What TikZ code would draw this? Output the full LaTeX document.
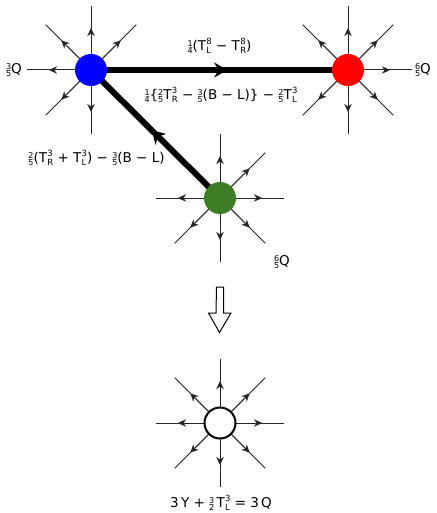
\documentclass[tikz,border=0pt]{standalone}
\usepackage{fontspec}
\setmainfont{DejaVu Sans}
\usetikzlibrary{arrows.meta,decorations.markings}
\pgfdeclarelayer{bg}
\pgfsetlayers{bg,main}
\definecolor{gnode}{RGB}{60,125,38}
\newcommand\sfr[2]{\ensuremath{\vcenter{\fontsize{8}{8}\selectfont\setbox0\hbox{#1}\setbox2\hbox{#2}\dimen0=\ifdim\wd0>\wd2 \wd0\else\wd2\fi\relax\hbox to\dimen0{\hss\box0\hss}\kern0.1pt{\color{gray!50}\hrule height0.3pt}\kern0.4pt\hbox to\dimen0{\hss\box2\hss}}}}
\newcommand\Tsb[2]{T\kern0.3pt\setbox0\hbox{\fontsize{8.5}{8.5}\selectfont #2}\setbox2\hbox{\fontsize{8.5}{8.5}\selectfont #1}\rlap{\raise0.8ex\copy0\relax}\lower0.45ex\copy2\relax\ifdim\wd0>\wd2\kern\dimexpr\wd0-\wd2\relax\fi}
\tikzset{
  charge/.style={circle,minimum size=32pt,inner sep=0pt},
  ray/.style={line width=1pt,black!85},
  rayarrow/.style={line width=1pt,black!85,-{Stealth[length=8pt,width=7.5pt,inset=2.5pt]}},
  thick edge/.style={line width=6pt,postaction={decorate},
    decoration={markings,mark=at position 0.53 with {\arrow{Stealth[length=13pt,width=15pt]}}}},
  lbl/.style={font=\fontsize{13.5}{15}\selectfont,inner sep=0pt},
}
\newcommand\rays[2]{\foreach \a in {#2}{\draw[ray] (#1.center) -- ++(\a:64);\draw[rayarrow] (#1.center) -- ++(\a:42);}}
\begin{document}
\begin{tikzpicture}[x=1pt,y=-1pt]
\useasboundingbox (0,0) rectangle (436,513);
\node[charge,fill=blue] (B) at (91,70) {};
\node[charge,fill=red] (R) at (348,70) {};
\node[charge,fill=gnode] (G) at (220,198) {};
\node[charge,minimum size=31pt,draw,line width=2pt,fill=white] (W) at (220,423) {};
\begin{pgfonlayer}{bg}
\rays{B}{90,135,180,225,270,315}
\rays{R}{0,45,90,135,225,270,315}
\rays{G}{0,45,90,135,180,270,315}
\rays{W}{0,45,90,135,180,225,270,315}
\draw[thick edge] (B.center) -- (R.center);
\draw[thick edge] (G.center) -- (B.center);
\end{pgfonlayer}
\node[lbl] (l1) at (219.5,46) {\sfr14(\Tsb{L}{8} − \Tsb{R}{8})};
\node[lbl] (l2) at (221,95) {\sfr14\{\sfr25\Tsb{R}{3} − \sfr35(B − L)\} − \sfr25\Tsb{L}{3}};
\node[lbl] (l3) at (96.5,158) {\sfr25(\Tsb{R}{3} + \Tsb{L}{3}) − \sfr35(B − L)};
\node[lbl] (qB) at (14,70) {\sfr35Q};
\node[lbl] (qR) at (423,70) {\sfr65Q};
\node[lbl] (qG) at (282,262) {\sfr65Q};
\node[lbl] (eq) at (221,503) {3\,Y + \sfr32\,\Tsb{L}{3} = 3\,Q};
\coordinate (A) at (220,287);
\draw[line width=1pt,line join=miter] (A) ++(-3.5,0) -- ++(7,0) -- ++(0,26) -- ++(7.5,0) -- (219.5,332.5) -- (208.5,313) -- ++(7.5,0) -- cycle;
\end{tikzpicture}
\end{document}
